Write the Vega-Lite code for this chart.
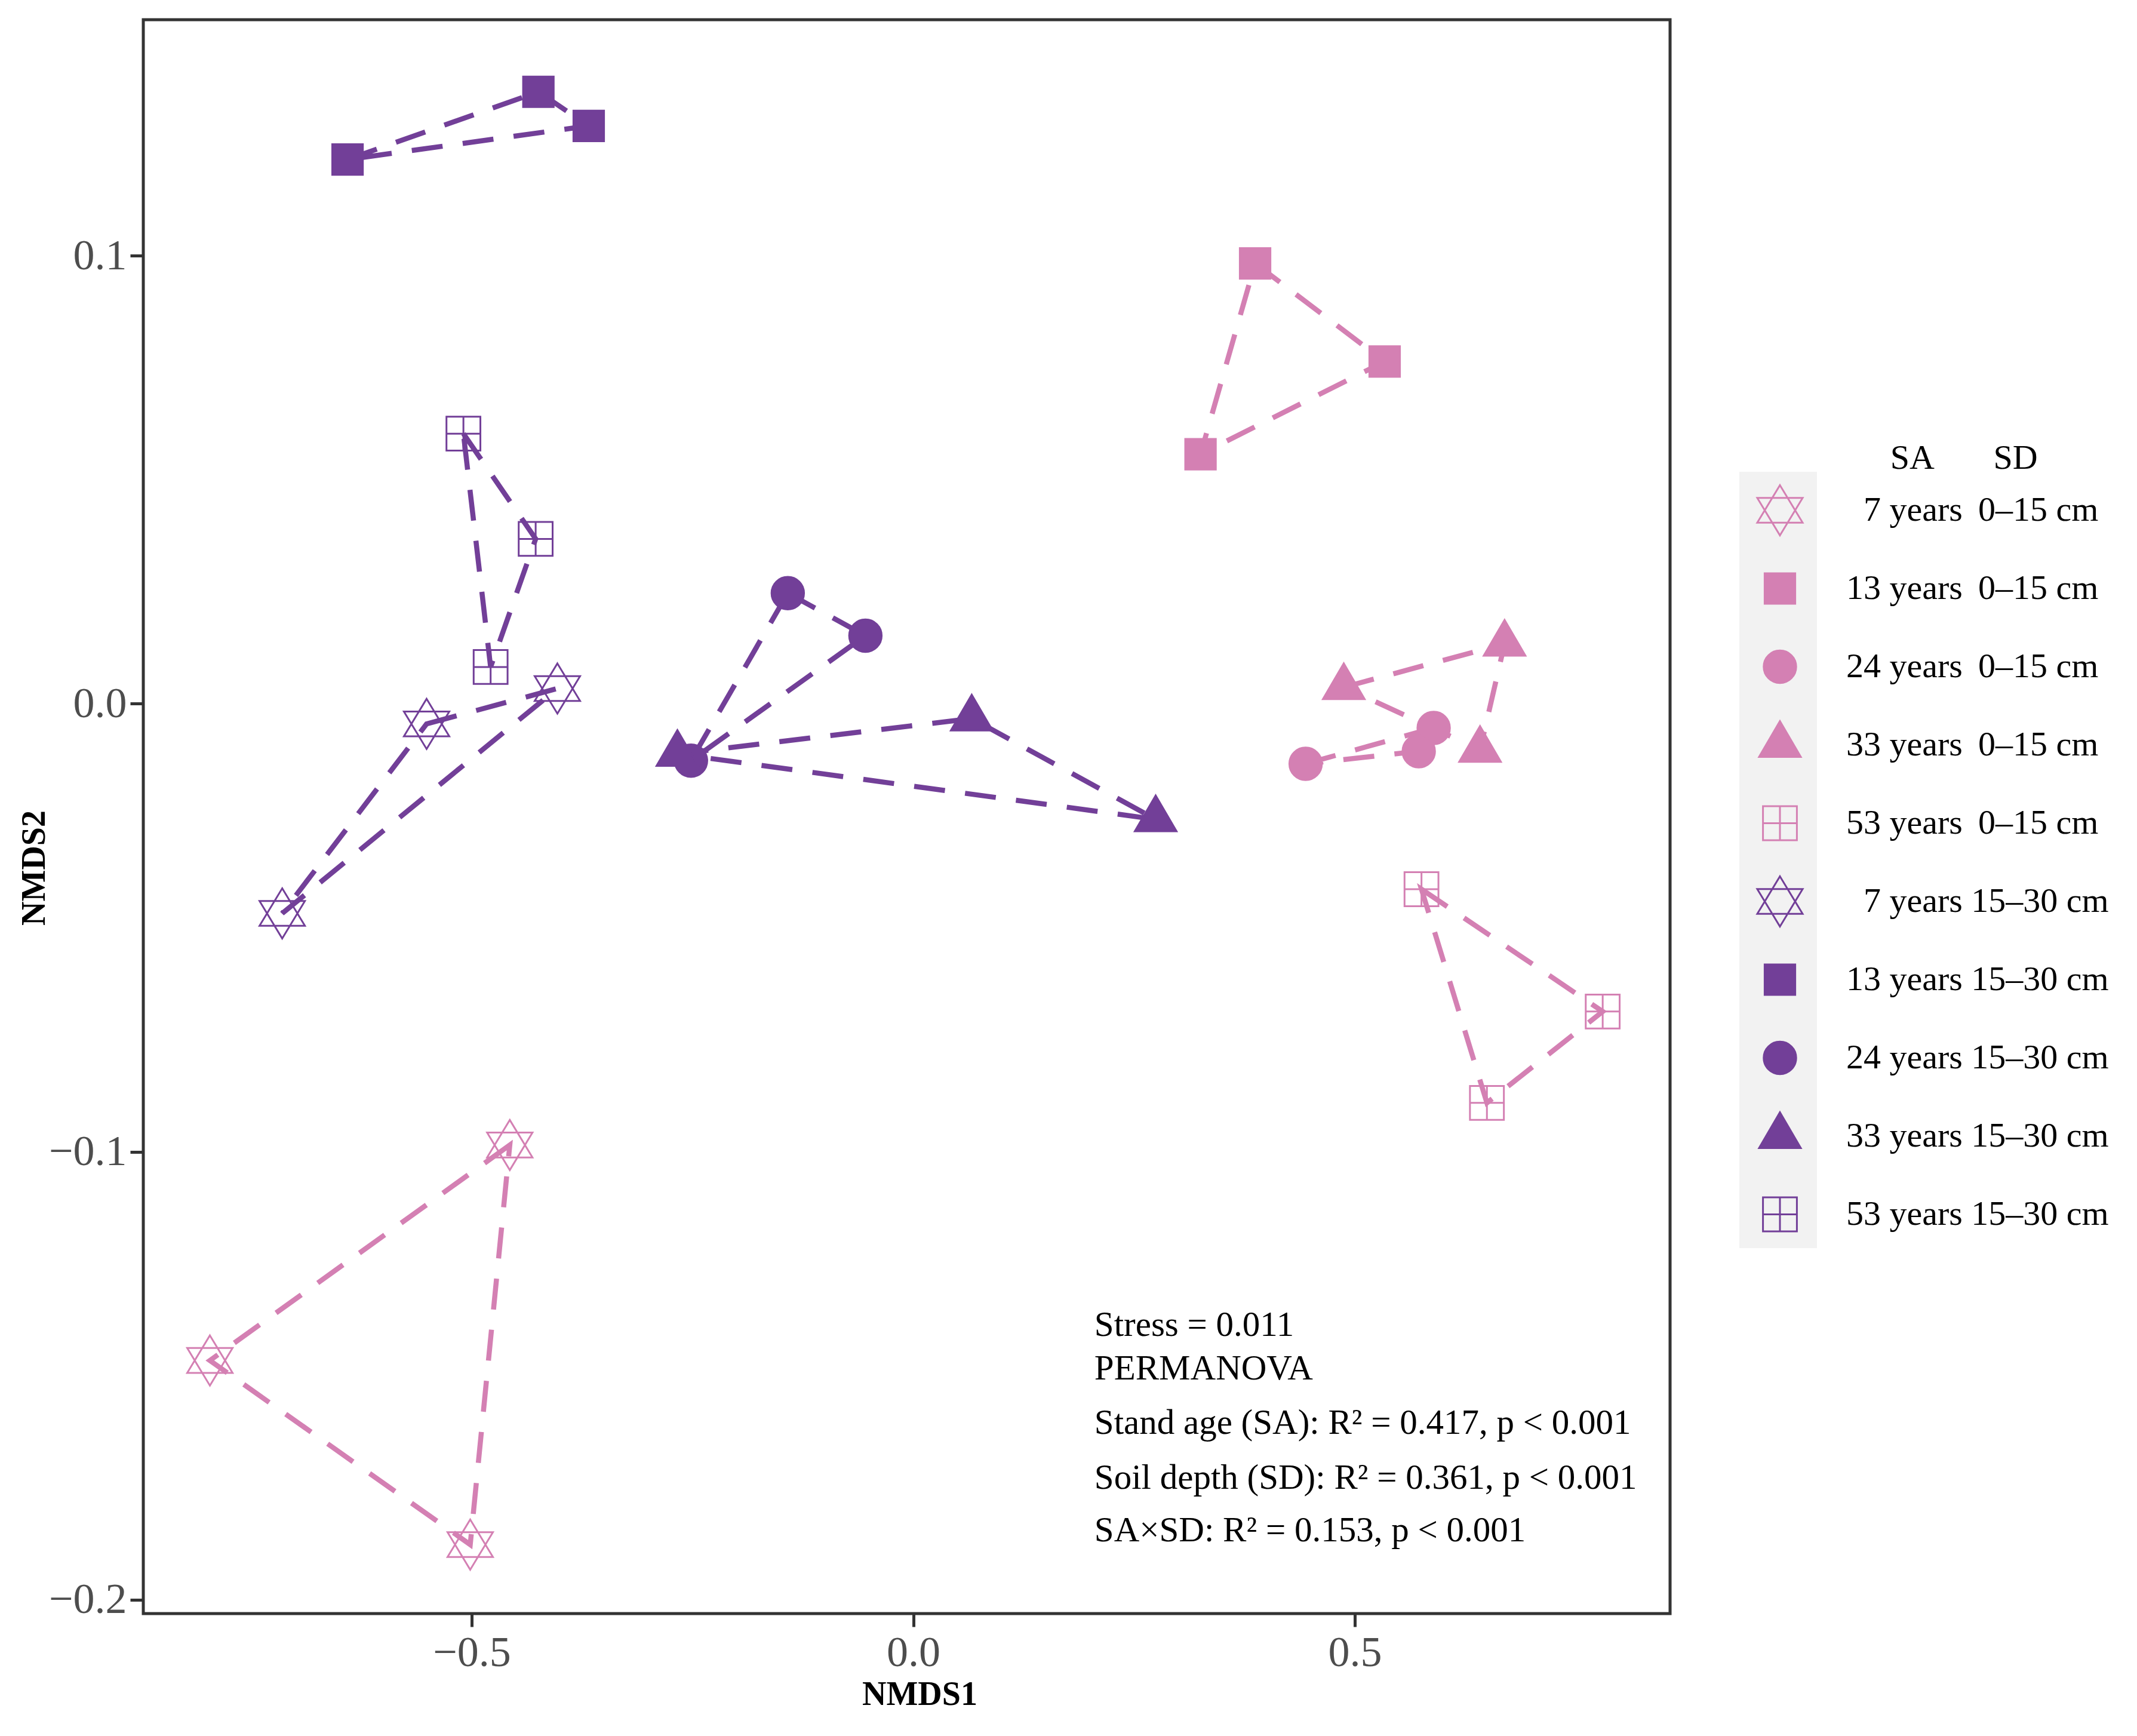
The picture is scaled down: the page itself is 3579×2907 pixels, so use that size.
{
  "$schema": "https://vega.github.io/schema/vega-lite/v6.json",
  "width": 2557,
  "height": 2669,
  "autosize": {"type": "none"},
  "padding": {"left": 240, "top": 33, "right": 782, "bottom": 205},
  "background": "white",
  "config": {
    "view": {"stroke": "#333333", "strokeWidth": 5},
    "axis": {"grid": false, "domain": false, "tickSize": 22, "tickWidth": 5, "tickColor": "#333333",
             "labelFont": "Liberation Serif", "labelFontSize": 72, "labelColor": "#4D4D4D",
             "titleFont": "Liberation Serif", "titleFontSize": 56, "titleFontWeight": "bold", "titleColor": "#000000"}
  },
  "datasets": {
    "pts": [
      {"grp": "7 years 0–15 cm", "x": -0.4569, "y": -0.0985, "ord": 0},
      {"grp": "7 years 0–15 cm", "x": -0.7965, "y": -0.1466, "ord": 1},
      {"grp": "7 years 0–15 cm", "x": -0.5017, "y": -0.1877, "ord": 2},
      {"grp": "13 years 0–15 cm", "x": 0.3871, "y": 0.0983, "ord": 0},
      {"grp": "13 years 0–15 cm", "x": 0.5338, "y": 0.0764, "ord": 1},
      {"grp": "13 years 0–15 cm", "x": 0.3253, "y": 0.0557, "ord": 2},
      {"grp": "24 years 0–15 cm", "x": 0.4443, "y": -0.0134, "ord": 0},
      {"grp": "24 years 0–15 cm", "x": 0.5893, "y": -0.0054, "ord": 1},
      {"grp": "24 years 0–15 cm", "x": 0.5724, "y": -0.0106, "ord": 2},
      {"grp": "33 years 0–15 cm", "x": 0.4875, "y": 0.0037, "ord": 0},
      {"grp": "33 years 0–15 cm", "x": 0.6696, "y": 0.0134, "ord": 1},
      {"grp": "33 years 0–15 cm", "x": 0.6418, "y": -0.0103, "ord": 2},
      {"grp": "53 years 0–15 cm", "x": 0.5755, "y": -0.0414, "ord": 0},
      {"grp": "53 years 0–15 cm", "x": 0.7807, "y": -0.0687, "ord": 1},
      {"grp": "53 years 0–15 cm", "x": 0.6496, "y": -0.0891, "ord": 2},
      {"grp": "7 years 15–30 cm", "x": -0.5511, "y": -0.0045, "ord": 0},
      {"grp": "7 years 15–30 cm", "x": -0.4030, "y": 0.0034, "ord": 1},
      {"grp": "7 years 15–30 cm", "x": -0.7146, "y": -0.0468, "ord": 2},
      {"grp": "13 years 15–30 cm", "x": -0.6406, "y": 0.1215, "ord": 0},
      {"grp": "13 years 15–30 cm", "x": -0.4245, "y": 0.1366, "ord": 1},
      {"grp": "13 years 15–30 cm", "x": -0.3675, "y": 0.1290, "ord": 2},
      {"grp": "24 years 15–30 cm", "x": -0.1421, "y": 0.0247, "ord": 0},
      {"grp": "24 years 15–30 cm", "x": -0.0542, "y": 0.0152, "ord": 1},
      {"grp": "24 years 15–30 cm", "x": -0.2517, "y": -0.0127, "ord": 2},
      {"grp": "33 years 15–30 cm", "x": -0.2671, "y": -0.0112, "ord": 0},
      {"grp": "33 years 15–30 cm", "x": 0.0662, "y": -0.0033, "ord": 1},
      {"grp": "33 years 15–30 cm", "x": 0.2745, "y": -0.0258, "ord": 2},
      {"grp": "53 years 15–30 cm", "x": -0.5094, "y": 0.0603, "ord": 0},
      {"grp": "53 years 15–30 cm", "x": -0.4276, "y": 0.0368, "ord": 1},
      {"grp": "53 years 15–30 cm", "x": -0.4786, "y": 0.0082, "ord": 2}
    ],
    "keys": [
      {"grp": "7 years 0–15 cm"}, {"grp": "13 years 0–15 cm"}, {"grp": "24 years 0–15 cm"},
      {"grp": "33 years 0–15 cm"}, {"grp": "53 years 0–15 cm"}, {"grp": "7 years 15–30 cm"},
      {"grp": "13 years 15–30 cm"}, {"grp": "24 years 15–30 cm"}, {"grp": "33 years 15–30 cm"},
      {"grp": "53 years 15–30 cm"}
    ],
    "notes": [
      {"line": "Stress = 0.011", "x": 0.2051, "y": -0.1387},
      {"line": "PERMANOVA", "x": 0.2051, "y": -0.1485},
      {"line": "Stand age (SA): R² = 0.417, p < 0.001", "x": 0.2051, "y": -0.1606},
      {"line": "Soil depth (SD): R² = 0.361, p < 0.001", "x": 0.2051, "y": -0.1729},
      {"line": "SA×SD: R² = 0.153, p < 0.001", "x": 0.2051, "y": -0.1846}
    ]
  },
  "layer": [
    {
      "data": {"name": "keys"},
      "mark": {"type": "square", "filled": true, "size": 0, "opacity": 1},
      "encoding": {
        "color": {"field": "grp", "type": "nominal",
          "scale": {"range": ["#F2F2F2"]},
          "legend": {"orient": "none", "legendX": 2673, "legendY": 757, "zindex": 0, "padding": 0,
            "title": null, "symbolType": "square", "symbolSize": 16900, "symbolStrokeWidth": 0,
            "symbolStrokeColor": "transparent", "rowPadding": 0, "labelExpr": "''", "labelFontSize": 10}
        }
      }
    },
    {
      "data": {"name": "pts"},
      "transform": [{"filter": "indexof(datum.grp, '0–15') >= 0"}],
      "mark": {"type": "line", "interpolate": "linear-closed", "strokeDash": [52, 34], "strokeWidth": 8.5, "strokeCap": "butt", "color": "#D480B3"},
      "encoding": {
        "x": {"field": "x", "type": "quantitative", "scale": {"domain": [-0.8719, 0.857], "nice": false, "zero": false},
              "axis": {"values": [-0.5, 0, 0.5], "format": ".1f", "title": "NMDS1", "labelPadding": 8, "titleX": 1300, "titleY": 135, "titleBaseline": "middle"}},
        "y": {"field": "y", "type": "quantitative", "scale": {"domain": [-0.2031, 0.1527], "nice": false, "zero": false},
              "axis": {"values": [-0.2, -0.1, 0, 0.1], "format": ".1f", "title": "NMDS2", "labelPadding": 6, "titleX": -183, "titleY": 1420, "titleAngle": -90, "titleBaseline": "middle", "titleAlign": "center"}},
        "detail": {"field": "grp", "type": "nominal"},
        "order": {"field": "ord", "type": "quantitative"}
      }
    },
    {
      "data": {"name": "pts"},
      "transform": [{"filter": "indexof(datum.grp, '15–30') >= 0"}],
      "mark": {"type": "line", "interpolate": "linear-closed", "strokeDash": [52, 34], "strokeWidth": 8.5, "strokeCap": "butt", "color": "#723F98"},
      "encoding": {
        "x": {"field": "x", "type": "quantitative", "scale": {"domain": [-0.8719, 0.857], "nice": false, "zero": false},
              "axis": {"values": [-0.5, 0, 0.5], "format": ".1f", "title": "NMDS1", "labelPadding": 8, "titleX": 1300, "titleY": 135, "titleBaseline": "middle"}},
        "y": {"field": "y", "type": "quantitative", "scale": {"domain": [-0.2031, 0.1527], "nice": false, "zero": false},
              "axis": {"values": [-0.2, -0.1, 0, 0.1], "format": ".1f", "title": "NMDS2", "labelPadding": 6, "titleX": -183, "titleY": 1420, "titleAngle": -90, "titleBaseline": "middle", "titleAlign": "center"}},
        "detail": {"field": "grp", "type": "nominal"},
        "order": {"field": "ord", "type": "quantitative"}
      }
    },
    {
      "data": {"name": "pts"},
      "mark": {"type": "point", "size": 6400, "strokeWidth": 3, "opacity": 1},
      "encoding": {
        "x": {"field": "x", "type": "quantitative", "scale": {"domain": [-0.8719, 0.857], "nice": false, "zero": false},
              "axis": {"values": [-0.5, 0, 0.5], "format": ".1f", "title": "NMDS1", "labelPadding": 8, "titleX": 1300, "titleY": 135, "titleBaseline": "middle"}},
        "y": {"field": "y", "type": "quantitative", "scale": {"domain": [-0.2031, 0.1527], "nice": false, "zero": false},
              "axis": {"values": [-0.2, -0.1, 0, 0.1], "format": ".1f", "title": "NMDS2", "labelPadding": 6, "titleX": -183, "titleY": 1420, "titleAngle": -90, "titleBaseline": "middle", "titleAlign": "center"}},
        "shape": {"field": "grp", "type": "nominal",
          "scale": {"domain": ["7 years 0–15 cm", "13 years 0–15 cm", "24 years 0–15 cm", "33 years 0–15 cm", "53 years 0–15 cm", "7 years 15–30 cm", "13 years 15–30 cm", "24 years 15–30 cm", "33 years 15–30 cm", "53 years 15–30 cm"],
                    "range": [
                      "M-1.1,-1.1M1.1,1.1M0,-1.05L0.95,0.52L-0.95,0.52Z M0,1.05L0.95,-0.52L-0.95,-0.52Z",
                      "M-1.1,-1.1M1.1,1.1M-0.64,-0.64H0.64V0.64H-0.64Z",
                      "M-1.1,-1.1M1.1,1.1M0.68,0A0.68,0.68,0,1,1,-0.68,0A0.68,0.68,0,1,1,0.68,0Z",
                      "M-1.1,-1.1M1.1,1.1M0,-1.0L0.875,0.5L-0.875,0.5Z",
                      "M-1.1,-1.1M1.1,1.1M-0.71,-0.71H0.71V0.71H-0.71Z M0,-0.71V0.71 M-0.71,0H0.71",
                      "M-1.1,-1.1M1.1,1.1M0,-1.05L0.95,0.52L-0.95,0.52Z M0,1.05L0.95,-0.52L-0.95,-0.52Z",
                      "M-1.1,-1.1M1.1,1.1M-0.64,-0.64H0.64V0.64H-0.64Z",
                      "M-1.1,-1.1M1.1,1.1M0.68,0A0.68,0.68,0,1,1,-0.68,0A0.68,0.68,0,1,1,0.68,0Z",
                      "M-1.1,-1.1M1.1,1.1M0,-1.0L0.875,0.5L-0.875,0.5Z",
                      "M-1.1,-1.1M1.1,1.1M-0.71,-0.71H0.71V0.71H-0.71Z M0,-0.71V0.71 M-0.71,0H0.71"
                    ]},
          "legend": {"orient": "none", "legendX": 2699.5, "legendY": 706, "zindex": 1, "padding": 0,
            "title": "\u200B\u2003\u2003\u2003\u2002\u2009\u2009SA\u2003\u2002\u2009SD", "titleFont": "Liberation Serif", "titleFontSize": 58, "titleFontWeight": "normal", "titleColor": "#000000", "titlePadding": 16, "titleLimit": 1000,
            "labelFont": "Liberation Serif", "labelFontSize": 58, "labelColor": "#000000", "labelOffset": 69.5, "labelLimit": 1000,
            "labelExpr": "(substring(datum.label,0,2)=='7 ' ? '\u200B\u2007' : '') + replace(datum.label, 'years 0', 'years \u20090')",
            "symbolSize": 6400, "symbolStrokeWidth": 3, "rowPadding": 30}
        },
        "fill": {"field": "grp", "type": "nominal",
          "scale": {"domain": ["7 years 0–15 cm", "13 years 0–15 cm", "24 years 0–15 cm", "33 years 0–15 cm", "53 years 0–15 cm", "7 years 15–30 cm", "13 years 15–30 cm", "24 years 15–30 cm", "33 years 15–30 cm", "53 years 15–30 cm"],
                    "range": ["transparent", "#D480B3", "#D480B3", "#D480B3", "transparent", "transparent", "#723F98", "#723F98", "#723F98", "transparent"]},
          "legend": {"orient": "none", "legendX": 2699.5, "legendY": 706, "zindex": 1, "padding": 0,
            "title": "\u200B\u2003\u2003\u2003\u2002\u2009\u2009SA\u2003\u2002\u2009SD", "titleFont": "Liberation Serif", "titleFontSize": 58, "titleFontWeight": "normal", "titleColor": "#000000", "titlePadding": 16, "titleLimit": 1000,
            "labelFont": "Liberation Serif", "labelFontSize": 58, "labelColor": "#000000", "labelOffset": 69.5, "labelLimit": 1000,
            "labelExpr": "(substring(datum.label,0,2)=='7 ' ? '\u200B\u2007' : '') + replace(datum.label, 'years 0', 'years \u20090')",
            "symbolSize": 6400, "symbolStrokeWidth": 3, "rowPadding": 30}
        },
        "stroke": {"field": "grp", "type": "nominal",
          "scale": {"domain": ["7 years 0–15 cm", "13 years 0–15 cm", "24 years 0–15 cm", "33 years 0–15 cm", "53 years 0–15 cm", "7 years 15–30 cm", "13 years 15–30 cm", "24 years 15–30 cm", "33 years 15–30 cm", "53 years 15–30 cm"],
                    "range": ["#D480B3", "#D480B3", "#D480B3", "#D480B3", "#D480B3", "#723F98", "#723F98", "#723F98", "#723F98", "#723F98"]},
          "legend": {"orient": "none", "legendX": 2699.5, "legendY": 706, "zindex": 1, "padding": 0,
            "title": "\u200B\u2003\u2003\u2003\u2002\u2009\u2009SA\u2003\u2002\u2009SD", "titleFont": "Liberation Serif", "titleFontSize": 58, "titleFontWeight": "normal", "titleColor": "#000000", "titlePadding": 16, "titleLimit": 1000,
            "labelFont": "Liberation Serif", "labelFontSize": 58, "labelColor": "#000000", "labelOffset": 69.5, "labelLimit": 1000,
            "labelExpr": "(substring(datum.label,0,2)=='7 ' ? '\u200B\u2007' : '') + replace(datum.label, 'years 0', 'years \u20090')",
            "symbolSize": 6400, "symbolStrokeWidth": 3, "rowPadding": 30}
        }
      }
    },
    {
      "data": {"name": "notes"},
      "mark": {"type": "text", "align": "left", "baseline": "middle", "font": "Liberation Serif", "fontSize": 59, "color": "#000000"},
      "encoding": {
        "x": {"field": "x", "type": "quantitative", "scale": {"domain": [-0.8719, 0.857], "nice": false, "zero": false},
              "axis": {"values": [-0.5, 0, 0.5], "format": ".1f", "title": "NMDS1", "labelPadding": 8, "titleX": 1300, "titleY": 135, "titleBaseline": "middle"}},
        "y": {"field": "y", "type": "quantitative", "scale": {"domain": [-0.2031, 0.1527], "nice": false, "zero": false},
              "axis": {"values": [-0.2, -0.1, 0, 0.1], "format": ".1f", "title": "NMDS2", "labelPadding": 6, "titleX": -183, "titleY": 1420, "titleAngle": -90, "titleBaseline": "middle", "titleAlign": "center"}},
        "text": {"field": "line", "type": "nominal"}
      }
    }
  ]
}
